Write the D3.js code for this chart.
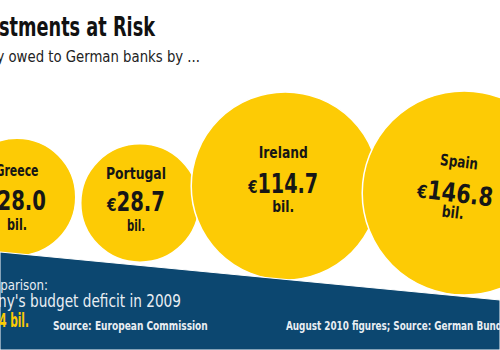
<!DOCTYPE html>
<html><head><meta charset="utf-8">
<script src="https://cdn.jsdelivr.net/npm/d3@7"></script>
<style>
html,body{margin:0;padding:0;background:#fff;overflow:hidden;}
svg{display:block;}
</style></head>
<body>
<script>
// ---- data ----
const title = "Investments at Risk";
const subtitle = "Money owed to German banks by ...";
const countries = ["Greece", "Portugal", "Ireland", "Spain"];
const values = [28.0, 28.7, 114.7, 146.8];           // € billion
const comparisonLabel = "In comparison:";
const comparisonText = "Germany's budget deficit in 2009";
const comparisonValue = 79.4;                         // € billion
const sourceLeft = "Source: European Commission";
const sourceRight = "August 2010 figures; Source: German Bundesbank";

// ---- layout ----
const W = 500, H = 350;
const FONT = "'DejaVu Sans Condensed','Liberation Sans Narrow',sans-serif";
const YELLOW = "#FDCB05", BLUE = "#0C4770", INK = "#161616", LIGHT = "#E9EEF3";

const svg = d3.select("body").append("svg").attr("width", W).attr("height", H);

// squeeze a text horizontally (condensed look) about its anchor point
function fit(sel, target) {
  sel.each(function(d, i) {
    const t = d3.select(this);
    const w = this.getComputedTextLength();
    const tw = typeof target === "function" ? target(d, i) : target;
    const x = +t.attr("x") || 0, y = +t.attr("y") || 0;
    if (w > 0) t.attr("transform", `translate(${x},${y}) scale(${tw / w},1) translate(${-x},${-y})`);
  });
}

// radius scale (power 1/3)
const r = d3.scalePow().exponent(1/3).domain([0, 114.7]).range([0, 94]);

// centres: packed from left with per-pair spacing adjustments
const gaps = [0, 5, -8, -17];
const cyPos = [197, 203, 186, 193];
const cx = [];
values.forEach((v, i) => {
  if (i === 0) cx.push(17);
  else cx.push(cx[i-1] + r(values[i-1]) + r(v) + gaps[i]);
});

const nodes = countries.map((c, i) => ({name: c, value: values[i], x: cx[i], y: cyPos[i], r: r(values[i])}));

svg.append("g").selectAll("circle").data(nodes).join("circle")
  .attr("cx", d => d.x).attr("cy", d => d.y).attr("r", d => d.r)
  .attr("fill", YELLOW).attr("stroke", "#fff").attr("stroke-width", 1.5);

// labels
const rot = [0, 0, 0, 7], dx = [0, -4, -2, -9];
const nameOff = [-21, -24, -28, -26], valOff = [13, 8, 7, 9], bilOff = [33, 28, 26, 25];
const nameW = [43, 60, 49, 38], valW = [58, 58, 70, 76], bilW = [20, 18, 22, 22];
const lab = svg.append("g").selectAll("g").data(nodes).join("g")
  .attr("transform", (d, i) => `translate(${d.x + dx[i]},${d.y}) rotate(${rot[i]})`)
  .attr("font-family", FONT).attr("font-weight", "bold").attr("fill", INK).attr("text-anchor", "middle");
lab.append("text").attr("y", (d, i) => nameOff[i]).attr("font-size", 16).text(d => d.name)
  .call(fit, (d, i) => nameW[i]);
const vt = lab.append("text").attr("y", (d, i) => valOff[i]).attr("font-size", 26);
vt.append("tspan").attr("font-size", 18).text("€");
vt.append("tspan").text(d => d3.format(".1f")(d.value));
vt.call(fit, (d, i) => valW[i]);
lab.append("text").attr("y", (d, i) => bilOff[i]).attr("font-size", 16).text("bil.")
  .call(fit, (d, i) => bilW[i]);

// blue slanted band
const band = d3.line()([[0, 252], [W, 300], [W, H], [0, H]]) + "Z";
svg.append("path").attr("d", band).attr("fill", BLUE).attr("stroke", "#fff").attr("stroke-width", 1);

// band texts
const bt = svg.append("g").attr("font-family", FONT);
bt.append("text").attr("x", 48).attr("y", 290).attr("text-anchor", "end")
  .attr("font-size", 14).attr("fill", LIGHT).text(comparisonLabel).call(fit, 88);
bt.append("text").attr("x", 181).attr("y", 307).attr("text-anchor", "end")
  .attr("font-size", 17).attr("fill", LIGHT).text(comparisonText).call(fit, 229);
bt.append("text").attr("x", 29).attr("y", 327).attr("text-anchor", "end")
  .attr("font-size", 20).attr("font-weight", "bold").attr("fill", YELLOW)
  .text("€" + d3.format(".1f")(comparisonValue) + " bil.").call(fit, 56);
bt.append("text").attr("x", 53).attr("y", 330)
  .attr("font-size", 13).attr("font-weight", "bold").attr("fill", LIGHT).text(sourceLeft).call(fit, 155);
bt.append("text").attr("x", 286).attr("y", 330)
  .attr("font-size", 13).attr("font-weight", "bold").attr("fill", LIGHT).text(sourceRight).call(fit, 252);

// title
svg.append("text").attr("x", 155).attr("y", 36).attr("text-anchor", "end")
  .attr("font-family", FONT).attr("font-weight", "bold").attr("font-size", 27)
  .attr("fill", "#111").text(title).call(fit, 199);
svg.append("text").attr("x", 200).attr("y", 62).attr("text-anchor", "end")
  .attr("font-family", FONT).attr("font-size", 16).attr("fill", "#222").text(subtitle).call(fit, 240);
</script>
</body></html>
